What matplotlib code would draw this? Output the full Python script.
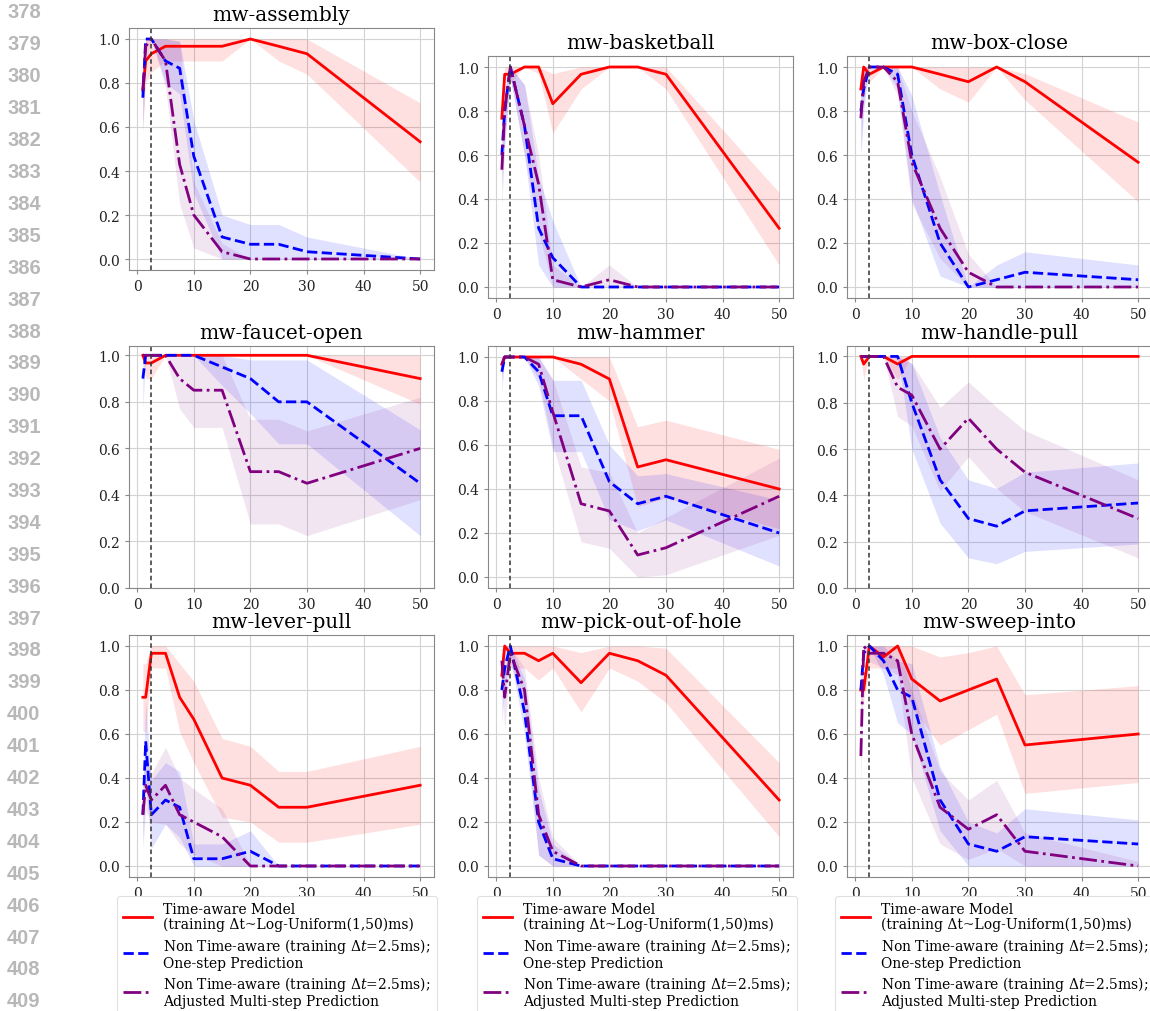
import matplotlib
matplotlib.use("Agg")
import matplotlib.pyplot as plt
from matplotlib.lines import Line2D

plt.rcParams["font.family"] = "DejaVu Serif"
plt.rcParams["mathtext.fontset"] = "dejavuserif"

# %%
# evaluation dt (ms)
dt = [1, 1.5, 2.5, 5, 7.5, 10, 15, 20, 25, 30, 50]

assembly_ta = [0.767, 0.9, 0.933, 0.967, 0.967, 0.967, 0.967, 1.0, 0.967, 0.933, 0.533]
assembly_ta_lo = [0.6, 0.8, 0.85, 0.9, 0.9, 0.9, 0.9, 1.0, 0.9, 0.84, 0.35]
assembly_ta_hi = [0.9, 1.0, 1.0, 1.0, 1.0, 1.0, 1.0, 1.0, 1.0, 1.0, 0.71]
assembly_one = [0.733, 1.0, 1.0, 0.9, 0.867, 0.467, 0.1, 0.067, 0.067, 0.033, 0.0]
assembly_one_lo = [0.57, 1.0, 1.0, 0.8, 0.75, 0.3, 0.0, 0.0, 0.0, 0.0, 0.0]
assembly_one_hi = [0.87, 1.0, 1.0, 1.0, 0.99, 0.63, 0.2, 0.157, 0.157, 0.1, 0.0]
assembly_multi = [0.767, 0.967, 1.0, 0.9, 0.43, 0.2, 0.033, 0.0, 0.0, 0.0, 0.0]
assembly_multi_lo = [0.57, 0.9, 1.0, 0.78, 0.25, 0.05, 0.0, 0.0, 0.0, 0.0, 0.0]
assembly_multi_hi = [0.9, 1.0, 1.0, 1.0, 0.99, 0.35, 0.07, 0.0, 0.0, 0.0, 0.0]

basketball_ta = [0.767, 0.967, 0.967, 1.0, 1.0, 0.833, 0.967, 1.0, 1.0, 0.967, 0.267]
basketball_ta_lo = [0.75, 0.93, 0.93, 1.0, 0.97, 0.7, 0.9, 1.0, 1.0, 0.9, 0.1]
basketball_ta_hi = [0.78, 1.0, 1.0, 1.0, 1.0, 0.97, 1.0, 1.0, 1.0, 1.0, 0.43]
basketball_one = [0.6, 0.8, 1.0, 0.733, 0.267, 0.133, 0.0, 0.0, 0.0, 0.0, 0.0]
basketball_one_lo = [0.45, 0.65, 0.95, 0.6, 0.1, 0.0, 0.0, 0.0, 0.0, 0.0, 0.0]
basketball_one_hi = [0.75, 0.9, 1.0, 0.92, 0.5, 0.3, 0.0, 0.0, 0.0, 0.0, 0.0]
basketball_multi = [0.533, 0.8, 1.0, 0.733, 0.467, 0.033, 0.0, 0.033, 0.0, 0.0, 0.0]
basketball_multi_lo = [0.35, 0.65, 0.95, 0.6, 0.25, 0.0, 0.0, 0.0, 0.0, 0.0, 0.0]
basketball_multi_hi = [0.7, 0.9, 1.0, 0.92, 0.6, 0.1, 0.0, 0.1, 0.0, 0.0, 0.0]

boxclose_ta = [0.9, 1.0, 0.967, 1.0, 1.0, 1.0, 0.967, 0.933, 1.0, 0.933, 0.567]
boxclose_ta_lo = [0.85, 1.0, 0.93, 1.0, 1.0, 1.0, 0.9, 0.84, 1.0, 0.85, 0.387]
boxclose_ta_hi = [0.95, 1.0, 1.0, 1.0, 1.0, 1.0, 1.0, 1.0, 1.0, 0.97, 0.75]
boxclose_one = [0.8, 0.9, 1.0, 1.0, 0.967, 0.6, 0.2, 0.0, 0.033, 0.067, 0.033]
boxclose_one_lo = [0.6, 0.8, 1.0, 1.0, 0.9, 0.4, 0.05, 0.0, 0.0, 0.0, 0.0]
boxclose_one_hi = [0.95, 1.0, 1.0, 1.0, 1.0, 0.87, 0.42, 0.0, 0.1, 0.16, 0.1]
boxclose_multi = [0.767, 0.933, 1.0, 1.0, 0.933, 0.567, 0.267, 0.067, 0.0, 0.0, 0.0]
boxclose_multi_lo = [0.6, 0.85, 1.0, 1.0, 0.87, 0.38, 0.13, 0.0, 0.0, 0.0, 0.0]
boxclose_multi_hi = [0.93, 1.0, 1.0, 1.0, 1.0, 0.8, 0.5, 0.15, 0.0, 0.0, 0.0]

faucet_ta = [1.0, 0.967, 0.967, 1.0, 1.0, 1.0, 1.0, 1.0, 1.0, 1.0, 0.9]
faucet_ta_lo = [1.0, 0.9, 0.9, 1.0, 1.0, 1.0, 1.0, 1.0, 1.0, 1.0, 0.79]
faucet_ta_hi = [1.0, 1.0, 1.0, 1.0, 1.0, 1.0, 1.0, 1.0, 1.0, 1.0, 1.0]
faucet_one = [0.9, 1.0, 1.0, 1.0, 1.0, 1.0, 0.95, 0.9, 0.8, 0.8, 0.45]
faucet_one_lo = [0.77, 1.0, 1.0, 1.0, 1.0, 1.0, 0.87, 0.75, 0.62, 0.62, 0.225]
faucet_one_hi = [1.0, 1.0, 1.0, 1.0, 1.0, 1.0, 1.0, 0.98, 0.98, 0.98, 0.68]
faucet_multi = [1.0, 1.0, 1.0, 1.0, 0.9, 0.85, 0.85, 0.5, 0.5, 0.45, 0.6]
faucet_multi_lo = [1.0, 1.0, 1.0, 1.0, 0.77, 0.69, 0.69, 0.275, 0.275, 0.225, 0.38]
faucet_multi_hi = [1.0, 1.0, 1.0, 1.0, 1.0, 1.0, 1.0, 0.725, 0.725, 0.675, 0.82]

hammer_ta = [0.967, 1.0, 1.0, 1.0, 1.0, 1.0, 0.967, 0.9, 0.5, 0.533, 0.4]
hammer_ta_lo = [0.9, 1.0, 1.0, 1.0, 1.0, 1.0, 0.9, 0.8, 0.32, 0.36, 0.22]
hammer_ta_hi = [1.0, 1.0, 1.0, 1.0, 1.0, 1.0, 1.0, 1.0, 0.683, 0.713, 0.58]
hammer_one = [0.933, 1.0, 1.0, 1.0, 0.933, 0.733, 0.733, 0.433, 0.333, 0.367, 0.2]
hammer_one_lo = [0.84, 1.0, 1.0, 1.0, 0.87, 0.57, 0.57, 0.26, 0.21, 0.26, 0.05]
hammer_one_hi = [1.0, 1.0, 1.0, 1.0, 1.0, 0.894, 0.894, 0.6, 0.46, 0.47, 0.35]
hammer_multi = [0.967, 1.0, 1.0, 1.0, 0.967, 0.75, 0.333, 0.3, 0.1, 0.133, 0.367]
hammer_multi_lo = [0.9, 1.0, 1.0, 1.0, 0.9, 0.6, 0.16, 0.13, 0.0, 0.01, 0.19]
hammer_multi_hi = [1.0, 1.0, 1.0, 1.0, 1.0, 0.9, 0.5, 0.475, 0.2, 0.27, 0.54]

handle_ta = [1.0, 0.967, 1.0, 1.0, 0.967, 1.0, 1.0, 1.0, 1.0, 1.0, 1.0]
handle_ta_lo = [1.0, 0.9, 1.0, 1.0, 0.9, 1.0, 1.0, 1.0, 1.0, 1.0, 1.0]
handle_ta_hi = [1.0, 1.0, 1.0, 1.0, 1.0, 1.0, 1.0, 1.0, 1.0, 1.0, 1.0]
handle_one = [1.0, 1.0, 1.0, 1.0, 1.0, 0.8, 0.467, 0.3, 0.267, 0.333, 0.367]
handle_one_lo = [1.0, 1.0, 1.0, 1.0, 1.0, 0.6, 0.28, 0.13, 0.105, 0.158, 0.19]
handle_one_hi = [1.0, 1.0, 1.0, 1.0, 1.0, 0.97, 0.65, 0.467, 0.43, 0.5, 0.54]
handle_multi = [1.0, 1.0, 1.0, 1.0, 0.867, 0.833, 0.6, 0.733, 0.6, 0.5, 0.3]
handle_multi_lo = [1.0, 1.0, 1.0, 1.0, 0.74, 0.7, 0.42, 0.567, 0.43, 0.33, 0.13]
handle_multi_hi = [1.0, 1.0, 1.0, 1.0, 1.0, 0.97, 0.78, 0.89, 0.78, 0.68, 0.467]

lever_ta = [0.767, 0.767, 0.967, 0.967, 0.767, 0.667, 0.4, 0.367, 0.267, 0.267, 0.367]
lever_ta_lo = [0.61, 0.61, 0.9, 0.9, 0.61, 0.47, 0.222, 0.2, 0.108, 0.108, 0.19]
lever_ta_hi = [0.92, 0.92, 1.0, 1.0, 0.92, 0.84, 0.58, 0.544, 0.43, 0.43, 0.544]
lever_one = [0.233, 0.567, 0.233, 0.3, 0.267, 0.033, 0.033, 0.067, 0.0, 0.0, 0.0]
lever_one_lo = [0.1, 0.38, 0.08, 0.19, 0.13, 0.0, 0.0, 0.0, 0.0, 0.0, 0.0]
lever_one_hi = [0.37, 0.75, 0.39, 0.47, 0.43, 0.1, 0.1, 0.16, 0.0, 0.0, 0.0]
lever_multi = [0.233, 0.367, 0.3, 0.367, 0.233, 0.2, 0.133, 0.0, 0.0, 0.0, 0.0]
lever_multi_lo = [0.08, 0.25, 0.2, 0.19, 0.1, 0.05, 0.0, 0.0, 0.0, 0.0, 0.0]
lever_multi_hi = [0.4, 0.5, 0.42, 0.54, 0.4, 0.35, 0.26, 0.0, 0.0, 0.0, 0.0]

pick_ta = [0.867, 1.0, 0.967, 0.967, 0.933, 0.967, 0.833, 0.967, 0.933, 0.867, 0.3]
pick_ta_lo = [0.75, 1.0, 0.9, 0.9, 0.845, 0.9, 0.7, 0.9, 0.84, 0.743, 0.133]
pick_ta_hi = [0.97, 1.0, 1.0, 1.0, 1.0, 1.0, 0.97, 1.0, 1.0, 0.99, 0.47]
pick_one = [0.8, 0.9, 1.0, 0.7, 0.2, 0.033, 0.0, 0.0, 0.0, 0.0, 0.0]
pick_one_lo = [0.65, 0.8, 0.95, 0.6, 0.05, 0.0, 0.0, 0.0, 0.0, 0.0, 0.0]
pick_one_hi = [0.9, 1.0, 1.0, 0.85, 0.35, 0.1, 0.0, 0.0, 0.0, 0.0, 0.0]
pick_multi = [0.933, 0.767, 0.967, 0.8, 0.233, 0.067, 0.0, 0.0, 0.0, 0.0, 0.0]
pick_multi_lo = [0.85, 0.62, 0.92, 0.7, 0.05, 0.0, 0.0, 0.0, 0.0, 0.0, 0.0]
pick_multi_hi = [1.0, 0.9, 1.0, 0.9, 0.4, 0.13, 0.0, 0.0, 0.0, 0.0, 0.0]

sweep_ta = [0.8, 0.8, 1.0, 0.95, 1.0, 0.85, 0.75, 0.8, 0.85, 0.55, 0.6]
sweep_ta_lo = [0.75, 0.75, 0.9, 0.9, 0.9, 0.72, 0.55, 0.62, 0.69, 0.33, 0.38]
sweep_ta_hi = [0.85, 0.85, 1.0, 1.0, 1.0, 1.0, 0.95, 0.97, 1.0, 0.778, 0.82]
sweep_one = [0.8, 0.967, 1.0, 0.933, 0.8, 0.767, 0.3, 0.1, 0.067, 0.133, 0.1]
sweep_one_lo = [0.7, 0.93, 1.0, 0.87, 0.65, 0.6, 0.16, 0.0, 0.0, 0.0, 0.0]
sweep_one_hi = [0.9, 1.0, 1.0, 1.0, 0.93, 0.92, 0.45, 0.2, 0.15, 0.26, 0.21]
sweep_multi = [0.5, 1.0, 0.967, 0.967, 0.933, 0.6, 0.267, 0.167, 0.233, 0.067, 0.0]
sweep_multi_lo = [0.32, 1.0, 0.93, 0.9, 0.87, 0.4, 0.1, 0.03, 0.08, 0.0, 0.0]
sweep_multi_hi = [0.68, 1.0, 1.0, 1.0, 1.0, 0.8, 0.43, 0.3, 0.39, 0.15, 0.02]

titles = ["mw-assembly", "mw-basketball", "mw-box-close",
          "mw-faucet-open", "mw-hammer", "mw-handle-pull",
          "mw-lever-pull", "mw-pick-out-of-hole", "mw-sweep-into"]

labels = ["Time-aware Model\n(training \u0394t~Log-Uniform(1,50)ms)",
          "Non Time-aware (training $\\Delta t$=2.5ms);\nOne-step Prediction",
          "Non Time-aware (training $\\Delta t$=2.5ms);\nAdjusted Multi-step Prediction"]

train_dt = 2.5

# %%
panels = [
    (assembly_ta, assembly_ta_lo, assembly_ta_hi, assembly_one, assembly_one_lo, assembly_one_hi,
     assembly_multi, assembly_multi_lo, assembly_multi_hi),
    (basketball_ta, basketball_ta_lo, basketball_ta_hi, basketball_one, basketball_one_lo, basketball_one_hi,
     basketball_multi, basketball_multi_lo, basketball_multi_hi),
    (boxclose_ta, boxclose_ta_lo, boxclose_ta_hi, boxclose_one, boxclose_one_lo, boxclose_one_hi,
     boxclose_multi, boxclose_multi_lo, boxclose_multi_hi),
    (faucet_ta, faucet_ta_lo, faucet_ta_hi, faucet_one, faucet_one_lo, faucet_one_hi,
     faucet_multi, faucet_multi_lo, faucet_multi_hi),
    (hammer_ta, hammer_ta_lo, hammer_ta_hi, hammer_one, hammer_one_lo, hammer_one_hi,
     hammer_multi, hammer_multi_lo, hammer_multi_hi),
    (handle_ta, handle_ta_lo, handle_ta_hi, handle_one, handle_one_lo, handle_one_hi,
     handle_multi, handle_multi_lo, handle_multi_hi),
    (lever_ta, lever_ta_lo, lever_ta_hi, lever_one, lever_one_lo, lever_one_hi,
     lever_multi, lever_multi_lo, lever_multi_hi),
    (pick_ta, pick_ta_lo, pick_ta_hi, pick_one, pick_one_lo, pick_one_hi,
     pick_multi, pick_multi_lo, pick_multi_hi),
    (sweep_ta, sweep_ta_lo, sweep_ta_hi, sweep_one, sweep_one_lo, sweep_one_hi,
     sweep_multi, sweep_multi_lo, sweep_multi_hi),
]

W, H = 1150, 1012
fig = plt.figure(figsize=(W / 100, H / 100), dpi=100)

# axes boxes in pixels: left, top
boxes = [(129, 29), (488, 57), (847, 57),
         (129, 347), (488, 347), (847, 347),
         (129, 636), (488, 636), (847, 636)]
ax_w, ax_h = 305, 242
ylims = [(-0.05, 1.05)] * 9
ylims[3] = (0.0, 1.04)
ylims[5] = (0.0, 1.045)

colors = ["red", "blue", "purple"]
styles = ["-", "--", "-."]
fill_alpha = [0.12, 0.12, 0.1]

for i, data in enumerate(panels):
    left, top = boxes[i]
    ax = fig.add_axes([left / W, 1 - (top + ax_h) / H, ax_w / W, ax_h / H])
    for k in range(3):
        mean, lo, hi = data[3 * k], data[3 * k + 1], data[3 * k + 2]
        ax.fill_between(dt, lo, hi, color=colors[k], alpha=fill_alpha[k], linewidth=0)
        ax.plot(dt, mean, color=colors[k], linestyle=styles[k], linewidth=2)
    ax.axvline(train_dt, color="#333333", linestyle="--", linewidth=1.1, dashes=(3, 2))
    ax.set_title(titles[i], fontsize=14.5)
    ax.set_ylim(*ylims[i])
    ax.set_xticks([0, 10, 20, 30, 40, 50])
    ax.set_yticks([0.0, 0.2, 0.4, 0.6, 0.8, 1.0])
    ax.set_yticklabels(["0.0", "0.2", "0.4", "0.6", "0.8", "1.0"])
    ax.grid(True, color="#d3d3d3", linewidth=0.8)
    ax.set_axisbelow(True)
    ax.tick_params(labelsize=10, colors="#222222", length=3, color="#888888")
    for s in ax.spines.values():
        s.set_color("#888888")

# legends under bottom row
handles = [Line2D([], [], color=colors[k], linestyle=styles[k], linewidth=2) for k in range(3)]
for lx in [117, 477, 835]:
    leg = fig.legend(handles, labels, loc="upper left", bbox_to_anchor=(lx / W, 1 - 897 / H),
                     fontsize=10, labelspacing=0.35, borderpad=0.45, handletextpad=0.75,
                     handlelength=2.1, borderaxespad=0, framealpha=1, edgecolor="#e0e0e0")
    leg.get_frame().set_linewidth(0.8)
    for t in leg.get_texts():
        t.set_linespacing(1.05)

# manuscript line numbers
for n in range(378, 410):
    y = 13 + (n - 378) * 31.9
    fig.text(7 / W, 1 - y / H, str(n), ha="left", va="center", color="#b8b8b8",
             fontsize=14.5, fontweight="bold", family="Liberation Sans")

fig.savefig("out.png", dpi=100)
